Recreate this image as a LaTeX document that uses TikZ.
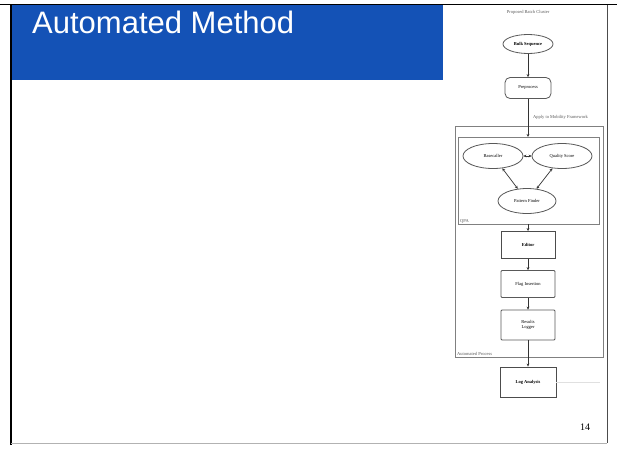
\documentclass[tikz,border=0pt]{standalone}
\usepackage{fontspec}
\setmainfont{Liberation Serif}
\newfontfamily\titlefont{Liberation Sans}
\usetikzlibrary{arrows.meta,shapes.geometric}
\definecolor{slideblue}{RGB}{20,82,182}
\tikzset{
  ell/.style={draw=black!65,ellipse,line width=0.8pt,font=\fontsize{4.5}{5.5}\selectfont,inner sep=0pt},
  rbox/.style={draw=black!65,rounded corners=5pt,line width=0.8pt,font=\fontsize{4.5}{5.5}\selectfont,align=center},
  sbox/.style={draw=black!70,line width=0.9pt,font=\fontsize{4.5}{5.5}\selectfont\bfseries,align=center},
  conn/.style={-{Stealth[length=3pt,width=2.8pt]},line width=0.7pt,black!80},
  biconn/.style={{Stealth[length=3pt,width=2.8pt]}-{Stealth[length=3pt,width=2.8pt]},line width=0.7pt,black!80},
  tiny/.style={font=\fontsize{4.5}{5.5}\selectfont,text=black!65,inner sep=0pt},
  cluster/.style={draw=black!50,line width=0.8pt}
}
\begin{document}
\begin{tikzpicture}[x=1pt,y=-1pt]
\useasboundingbox (0,0) rectangle (617,453);
\fill[white] (0,0) rectangle (617,453);
% slide frame
\draw[black,line width=1.2pt] (0,4.5) -- (617,4.5);
\draw[black,line width=1.2pt] (11,4.5) -- (11,445);
\draw[black!70,line width=0.8pt] (607,4.5) -- (607,443);
\draw[black!30,line width=0.8pt] (11,443) -- (607,443);
% title banner
\fill[slideblue] (11.5,5) rectangle (443,80);
\node[anchor=base west,text=white,font=\titlefont\fontsize{31}{36}\selectfont,inner sep=0pt] (title) at (32,33) {Automated Method};
% clusters
\node[cluster,minimum width=148,minimum height=231,anchor=north west] (auto) at (455,126) {};
\node[tiny,anchor=south west] (autolbl) at (457,356) {Automated Process};
\node[cluster,minimum width=141,minimum height=87,anchor=north west] (qpa) at (458,137) {};
\node[tiny,anchor=south west] (qpalbl) at (460,223) {QPA};
% top label
\node[tiny] (cl) at (528,12) {Proposed Batch Cluster};
% nodes
\node[ell,minimum width=50,minimum height=19] (bulk) at (528,44) {\bfseries Bulk Sequence};
\node[rbox,minimum width=46,minimum height=21] (pre) at (528,88) {Preprocess};
\node[ell,minimum width=60,minimum height=25] (base) at (493,156) {Basecaller};
\node[ell,minimum width=60,minimum height=25] (qual) at (562,156) {Quality Score};
\node[ell,minimum width=58,minimum height=25] (patt) at (527,201) {Pattern Finder};
\node[sbox,minimum width=54,minimum height=27] (edit) at (528,245) {Editor};
\node[rbox,rounded corners=1pt,minimum width=54,minimum height=27] (flag) at (528,284) {Flag Insertion};
\node[rbox,rounded corners=1pt,minimum width=54,minimum height=30] (res) at (528,325) {Results\\Logger};
\node[sbox,minimum width=56,minimum height=30] (log) at (528,382) {Log Analysis};
\coordinate (qtop) at (528,137);
\coordinate (qbot) at (528,224);
% connectors
\draw[conn] (bulk) -- (pre);
\draw[conn] (pre) -- (qtop);
\node[tiny,anchor=west] (applbl) at (533,117) {Apply to Mobility Framework};
\draw[biconn] (base) -- (qual);
\draw[biconn] (base) -- (patt);
\draw[biconn] (qual) -- (patt);
\draw[conn] (qbot) -- (edit);
\draw[conn] (edit) -- (flag);
\draw[conn] (flag) -- (res);
\draw[conn] (res) -- (log);
\draw[black!12,line width=0.8pt] (log.east) -- ++(44,0);
% page number
\node[font=\fontsize{10}{12}\selectfont] (pg) at (585,427) {14};
\end{tikzpicture}
\end{document}
